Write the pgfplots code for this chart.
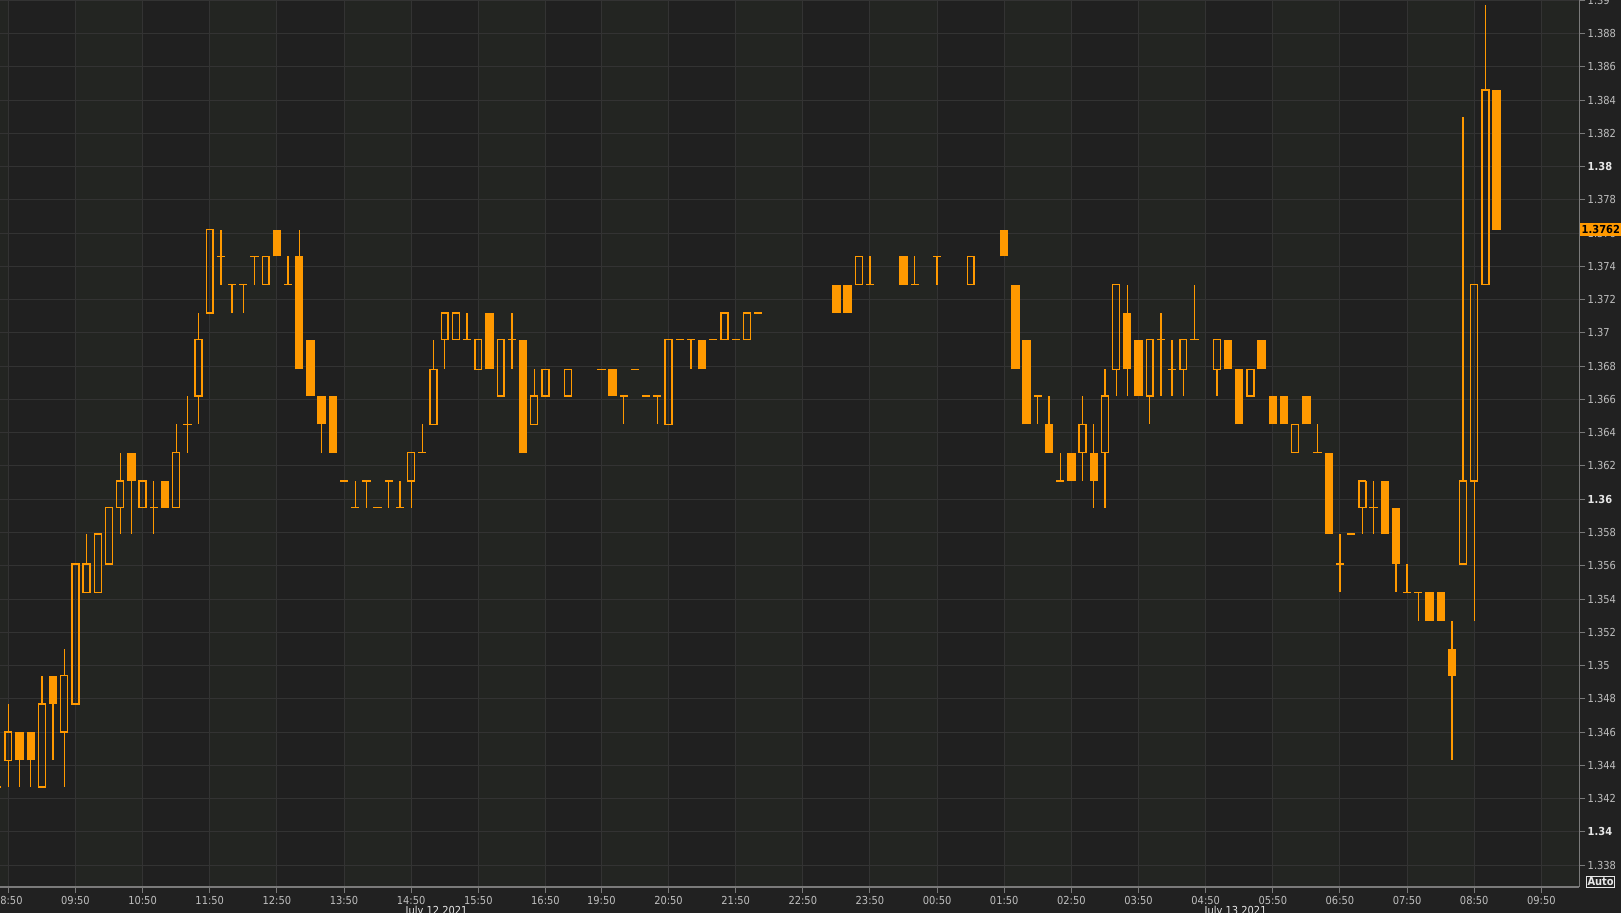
\documentclass[border=0pt]{standalone}
\usepackage{fontspec}
\setmainfont{DejaVu Sans Condensed}
\usepackage{pgfplots}
\usepackage{pgfplotstable}
\pgfplotsset{compat=1.18}
\definecolor{bgD}{HTML}{202020}
\definecolor{bgL}{HTML}{232522}
\definecolor{outerbg}{HTML}{212121}
\definecolor{gridc}{HTML}{333333}
\definecolor{axisc}{HTML}{7A7A7A}
\definecolor{labc}{HTML}{BEBEBE}
\definecolor{labb}{HTML}{E6E6E6}
\definecolor{candle}{HTML}{FF9900}

\pgfplotstableread{
i o h l c
-1 1.3427 1.3427 1.3427 1.3427
0 1.3443 1.3477 1.3427 1.3460
1 1.3460 1.3460 1.3427 1.3443
2 1.3460 1.3460 1.3427 1.3443
3 1.3427 1.3494 1.3427 1.3477
4 1.3494 1.3494 1.3443 1.3477
5 1.3460 1.3510 1.3427 1.3494
6 1.3477 1.3561 1.3477 1.3561
7 1.3544 1.3579 1.3544 1.3561
8 1.3544 1.3579 1.3544 1.3579
9 1.3561 1.3595 1.3561 1.3595
10 1.3595 1.3628 1.3579 1.3611
11 1.3628 1.3628 1.3579 1.3611
12 1.3595 1.3611 1.3595 1.3611
13 1.3595 1.3611 1.3579 1.3595
14 1.3611 1.3611 1.3595 1.3595
15 1.3595 1.3645 1.3595 1.3628
16 1.3645 1.3662 1.3628 1.3645
17 1.3662 1.3712 1.3645 1.3696
18 1.3712 1.3762 1.3712 1.3762
19 1.3746 1.3762 1.3729 1.3746
20 1.3729 1.3729 1.3712 1.3729
21 1.3729 1.3729 1.3712 1.3729
22 1.3746 1.3746 1.3729 1.3746
23 1.3729 1.3746 1.3729 1.3746
24 1.3762 1.3762 1.3746 1.3746
25 1.3729 1.3746 1.3729 1.3729
26 1.3746 1.3762 1.3678 1.3678
27 1.3696 1.3696 1.3662 1.3662
28 1.3662 1.3662 1.3628 1.3645
29 1.3662 1.3662 1.3628 1.3628
30 1.3611 1.3611 1.3611 1.3611
31 1.3595 1.3611 1.3595 1.3595
32 1.3611 1.3611 1.3595 1.3611
33 1.3595 1.3595 1.3595 1.3595
34 1.3611 1.3611 1.3595 1.3611
35 1.3595 1.3611 1.3595 1.3595
36 1.3611 1.3628 1.3595 1.3628
37 1.3628 1.3645 1.3628 1.3628
38 1.3645 1.3696 1.3645 1.3678
39 1.3696 1.3712 1.3678 1.3712
40 1.3696 1.3712 1.3696 1.3712
41 1.3696 1.3712 1.3696 1.3696
42 1.3678 1.3696 1.3678 1.3696
43 1.3712 1.3712 1.3678 1.3678
44 1.3662 1.3696 1.3662 1.3696
45 1.3696 1.3712 1.3678 1.3696
46 1.3696 1.3696 1.3628 1.3628
47 1.3645 1.3678 1.3645 1.3662
48 1.3662 1.3678 1.3662 1.3678
50 1.3662 1.3678 1.3662 1.3678
53 1.3678 1.3678 1.3678 1.3678
54 1.3678 1.3678 1.3662 1.3662
55 1.3662 1.3662 1.3645 1.3662
56 1.3678 1.3678 1.3678 1.3678
57 1.3662 1.3662 1.3662 1.3662
58 1.3662 1.3662 1.3645 1.3662
59 1.3645 1.3696 1.3645 1.3696
60 1.3696 1.3696 1.3696 1.3696
61 1.3696 1.3696 1.3678 1.3696
62 1.3696 1.3696 1.3678 1.3678
63 1.3696 1.3696 1.3696 1.3696
64 1.3696 1.3712 1.3696 1.3712
65 1.3696 1.3696 1.3696 1.3696
66 1.3696 1.3712 1.3696 1.3712
67 1.3712 1.3712 1.3712 1.3712
74 1.3729 1.3729 1.3712 1.3712
75 1.3729 1.3729 1.3712 1.3712
76 1.3729 1.3746 1.3729 1.3746
77 1.3729 1.3746 1.3729 1.3729
80 1.3746 1.3746 1.3729 1.3729
81 1.3729 1.3746 1.3729 1.3729
83 1.3746 1.3746 1.3729 1.3746
86 1.3729 1.3746 1.3729 1.3746
89 1.3762 1.3762 1.3746 1.3746
90 1.3729 1.3729 1.3678 1.3678
91 1.3696 1.3696 1.3645 1.3645
92 1.3662 1.3662 1.3645 1.3662
93 1.3645 1.3662 1.3628 1.3628
94 1.3611 1.3628 1.3611 1.3611
95 1.3628 1.3628 1.3611 1.3611
96 1.3628 1.3662 1.3611 1.3645
97 1.3628 1.3645 1.3595 1.3611
98 1.3628 1.3678 1.3595 1.3662
99 1.3678 1.3729 1.3662 1.3729
100 1.3712 1.3729 1.3662 1.3678
101 1.3696 1.3696 1.3662 1.3662
102 1.3662 1.3696 1.3645 1.3696
103 1.3696 1.3712 1.3662 1.3696
104 1.3678 1.3696 1.3662 1.3678
105 1.3678 1.3696 1.3662 1.3696
106 1.3696 1.3729 1.3696 1.3696
108 1.3678 1.3696 1.3662 1.3696
109 1.3696 1.3696 1.3678 1.3678
110 1.3678 1.3678 1.3645 1.3645
111 1.3662 1.3678 1.3662 1.3678
112 1.3696 1.3696 1.3678 1.3678
113 1.3662 1.3662 1.3645 1.3645
114 1.3662 1.3662 1.3645 1.3645
115 1.3628 1.3645 1.3628 1.3645
116 1.3662 1.3662 1.3645 1.3645
117 1.3628 1.3645 1.3628 1.3628
118 1.3628 1.3628 1.3579 1.3579
119 1.3561 1.3579 1.3544 1.3561
120 1.3579 1.3579 1.3579 1.3579
121 1.3595 1.3611 1.3579 1.3611
122 1.3595 1.3611 1.3579 1.3595
123 1.3611 1.3611 1.3579 1.3579
124 1.3595 1.3595 1.3544 1.3561
125 1.3544 1.3561 1.3544 1.3544
126 1.3544 1.3544 1.3527 1.3544
127 1.3544 1.3544 1.3527 1.3527
128 1.3544 1.3544 1.3527 1.3527
129 1.3510 1.3527 1.3443 1.3494
130 1.3561 1.3830 1.3561 1.3611
131 1.3611 1.3729 1.3527 1.3729
132 1.3729 1.3897 1.3729 1.3846
133 1.3846 1.3846 1.3762 1.3762
}\ohlc

\pgfplotsset{
  candlebar/.style={draw=none, mark=none, restrict y to domain=1.3:1.4,
    error bars/error mark=none, error bars/error bar style={draw=candle, line width=#1}},
}
\pagecolor{outerbg}

\begin{document}%
\begin{tikzpicture}
\begin{axis}[
  at={(0pt,0pt)}, anchor=north west,
  scale only axis, width=789.65pt, height=443.5pt,
  xmin=-0.742, xmax=140.39, ymin=1.336686, ymax=1.390014,
  set layers,
  axis x line=bottom, axis y line=right,
  axis line style={draw=axisc, line width=0.6pt, -},
  grid=major, major grid style={draw=gridc, line width=0.5pt},
  tick align=outside, major tick length=3pt,
  tick style={draw=axisc, line width=0.5pt},
  xtick={0,6,12,18,24,30,36,42,48,53,59,65,71,77,83,89,95,101,107,113,119,125,131,137},
  xticklabels={08:50,09:50,10:50,11:50,12:50,13:50,14:50,15:50,16:50,19:50,20:50,21:50,22:50,23:50,00:50,01:50,02:50,03:50,04:50,05:50,06:50,07:50,08:50,09:50},
  ytick={1.338,1.340,1.342,1.344,1.346,1.348,1.350,1.352,1.354,1.356,1.358,1.360,1.362,1.364,1.366,1.368,1.370,1.372,1.374,1.376,1.378,1.380,1.382,1.384,1.386,1.388,1.390},
  yticklabels={1.338,{\color{labb}\bfseries 1.34},1.342,1.344,1.346,1.348,1.35,1.352,1.354,1.356,1.358,{\color{labb}\bfseries 1.36},1.362,1.364,1.366,1.368,1.37,1.372,1.374,1.376,1.378,{\color{labb}\bfseries 1.38},1.382,1.384,1.386,1.388,1.39},
  tick label style={font=\fontsize{5.5}{6.6}\selectfont, text=labc},
  yticklabel style={anchor=west, inner sep=0pt, xshift=1pt},
  xticklabel style={inner sep=0pt, yshift=-1.5pt},
  scaled y ticks=false,
]
\begin{pgfonlayer}{axis background}
\fill[bgL] (rel axis cs:0,0) rectangle (rel axis cs:0.005257,1);
\fill[bgD] (rel axis cs:0.005257,0) rectangle (rel axis cs:0.047771,1);
\fill[bgL] (rel axis cs:0.047771,0) rectangle (rel axis cs:0.090285,1);
\fill[bgD] (rel axis cs:0.090285,0) rectangle (rel axis cs:0.132799,1);
\fill[bgL] (rel axis cs:0.132799,0) rectangle (rel axis cs:0.175313,1);
\fill[bgD] (rel axis cs:0.175313,0) rectangle (rel axis cs:0.217827,1);
\fill[bgL] (rel axis cs:0.217827,0) rectangle (rel axis cs:0.260341,1);
\fill[bgD] (rel axis cs:0.260341,0) rectangle (rel axis cs:0.302855,1);
\fill[bgL] (rel axis cs:0.302855,0) rectangle (rel axis cs:0.345370,1);
\fill[bgD] (rel axis cs:0.345370,0) rectangle (rel axis cs:0.380798,1);
\fill[bgL] (rel axis cs:0.380798,0) rectangle (rel axis cs:0.423312,1);
\fill[bgD] (rel axis cs:0.423312,0) rectangle (rel axis cs:0.465826,1);
\fill[bgL] (rel axis cs:0.465826,0) rectangle (rel axis cs:0.508340,1);
\fill[bgD] (rel axis cs:0.508340,0) rectangle (rel axis cs:0.550855,1);
\fill[bgL] (rel axis cs:0.550855,0) rectangle (rel axis cs:0.593369,1);
\fill[bgD] (rel axis cs:0.593369,0) rectangle (rel axis cs:0.635883,1);
\fill[bgL] (rel axis cs:0.635883,0) rectangle (rel axis cs:0.678397,1);
\fill[bgD] (rel axis cs:0.678397,0) rectangle (rel axis cs:0.720911,1);
\fill[bgL] (rel axis cs:0.720911,0) rectangle (rel axis cs:0.763425,1);
\fill[bgD] (rel axis cs:0.763425,0) rectangle (rel axis cs:0.805940,1);
\fill[bgL] (rel axis cs:0.805940,0) rectangle (rel axis cs:0.848454,1);
\fill[bgD] (rel axis cs:0.848454,0) rectangle (rel axis cs:0.890968,1);
\fill[bgL] (rel axis cs:0.890968,0) rectangle (rel axis cs:0.933482,1);
\fill[bgD] (rel axis cs:0.933482,0) rectangle (rel axis cs:0.975996,1);
\fill[bgL] (rel axis cs:0.975996,0) rectangle (rel axis cs:1,1);
\end{pgfonlayer}
% upper wicks
\addplot[candlebar=0.65pt, error bars/y dir=plus, error bars/y explicit]
  table[x=i, y expr={max(\thisrow{o},\thisrow{c})},
        y error plus expr={\thisrow{h}-max(\thisrow{o},\thisrow{c})}] {\ohlc};
% lower wicks
\addplot[candlebar=0.65pt, error bars/y dir=minus, error bars/y explicit]
  table[x=i, y expr={min(\thisrow{o},\thisrow{c})},
        y error minus expr={min(\thisrow{o},\thisrow{c})-\thisrow{l}}] {\ohlc};
% filled bodies (close below open)
\addplot[candlebar=4.15pt, error bars/y dir=plus, error bars/y explicit]
  table[x=i, y expr={\thisrow{c}<\thisrow{o} ? \thisrow{c} : 0},
        y error plus expr={\thisrow{o}-\thisrow{c}}] {\ohlc};
% hollow bodies: left and right edges
\addplot[candlebar=0.7pt, error bars/y dir=plus, error bars/y explicit]
  table[x expr={\thisrow{i}-0.31}, y expr={\thisrow{c}>\thisrow{o} ? \thisrow{o} : 0},
        y error plus expr={\thisrow{c}-\thisrow{o}}] {\ohlc};
\addplot[candlebar=0.7pt, error bars/y dir=plus, error bars/y explicit]
  table[x expr={\thisrow{i}+0.31}, y expr={\thisrow{c}>\thisrow{o} ? \thisrow{o} : 0},
        y error plus expr={\thisrow{c}-\thisrow{o}}] {\ohlc};
% hollow bodies bottom edge and doji ticks
\addplot[candlebar=0.7pt, error bars/x dir=both, error bars/x fixed=0.371]
  table[x=i, y expr={\thisrow{c}<\thisrow{o} ? 0 : \thisrow{o}}] {\ohlc};
% hollow bodies top edge
\addplot[candlebar=0.7pt, error bars/x dir=both, error bars/x fixed=0.371]
  table[x=i, y expr={\thisrow{c}>\thisrow{o} ? \thisrow{c} : 0}] {\ohlc};
\coordinate (pp) at (rel axis cs:1,0.74096);
\coordinate (d1) at (rel axis cs:0.27642,0);
\coordinate (d2) at (rel axis cs:0.78240,0);
\end{axis}
\node[fill=candle, text=black, font=\fontsize{5.5}{6}\selectfont\bfseries, anchor=west, inner sep=0pt, minimum height=6.5pt, minimum width=20.5pt] at ([xshift=0.3pt]pp) {1.3762};
\node[font=\fontsize{5.5}{6.6}\selectfont, text=labb] at ([yshift=-12pt]d1) {July 12 2021};
\node[font=\fontsize{5.5}{6.6}\selectfont, text=labb] at ([yshift=-12pt]d2) {July 13 2021};
\node[draw=labb, line width=0.5pt, fill=outerbg, text=labb, font=\fontsize{5.5}{6}\selectfont\bfseries, inner sep=0.5pt, minimum width=14pt, minimum height=5.6pt] at (800.3pt,-440.9pt) {Auto};
\pgfresetboundingbox
\path[use as bounding box] (0pt,0pt) rectangle (810.5pt,-456.5pt);
\end{tikzpicture}%
\end{document}
